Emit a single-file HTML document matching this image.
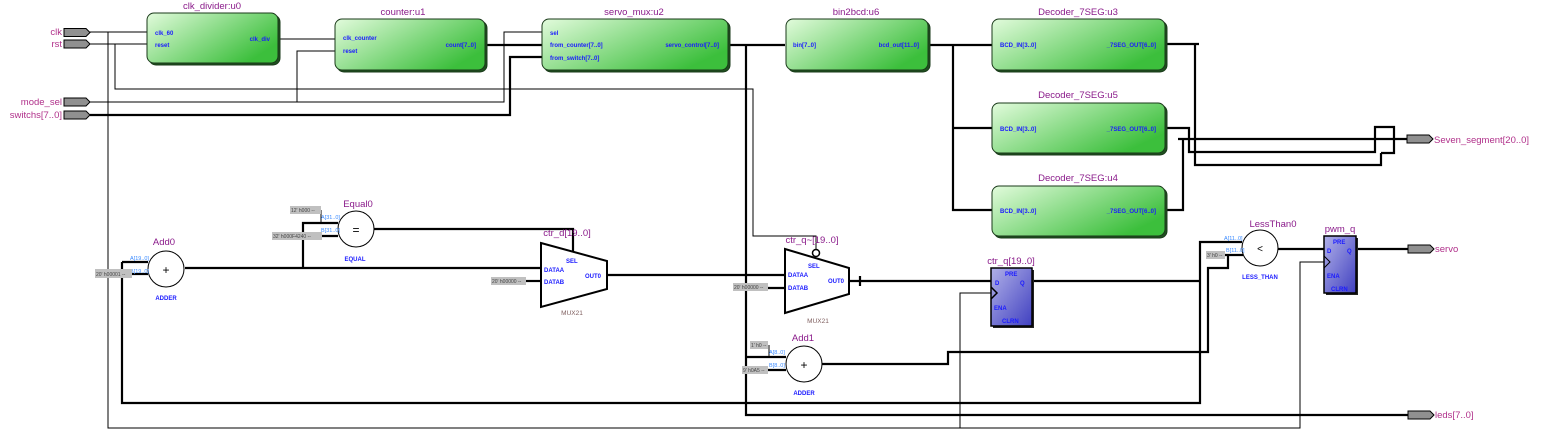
<!DOCTYPE html>
<html><head><meta charset="utf-8"><style>
html,body{margin:0;padding:0;background:#fff;}
svg{display:block;}
text{font-family:"Liberation Sans",sans-serif;}
.t{fill:#8a1a8a;font-size:9.5px;}
.p{fill:#1a1aff;font-size:6px;font-weight:bold;}
.pl{fill:#3a8aff;font-size:5.5px;}
.c{fill:#444;font-size:5px;}
.m{fill:#b0308a;font-size:9.5px;}
.w{stroke:#000;stroke-width:1;fill:none;}
.W{stroke:#000;stroke-width:2.2;fill:none;}
</style></head><body>
<svg width="1542" height="446" viewBox="0 0 1542 446" xmlns="http://www.w3.org/2000/svg">
<defs>
<linearGradient id="g" x1="0" y1="0" x2="1" y2="0.6">
<stop offset="0" stop-color="#e2fbdc"/><stop offset="1" stop-color="#3cbf3c"/></linearGradient>
<linearGradient id="b" x1="0" y1="0" x2="1" y2="1">
<stop offset="0" stop-color="#b0b0e8"/><stop offset="1" stop-color="#4040c0"/></linearGradient>
</defs>

<!-- wires thin -->
<g class="w">
<path d="M90 32H147M108 32V428H1300V262H1324"/>
<path d="M90 44H147M115 44V89H753V236H816V249"/>
<path d="M90 102H504V32H543"/>
<path d="M297 102V51H335"/>
<path d="M278 39H335"/>
<path d="M960 428V293H991"/>
<path d="M321 210V223"/>
<path d="M769 345V357"/>
</g>
<!-- wires thick -->
<g class="W">
<path d="M90 115H510V57H543"/>
<path d="M486 45H543"/>
<path d="M728 45H785M746 45V415H1408"/>
<path d="M928 45H992M953 45V210H992M953 128H992"/>
<path d="M1165 44H1199M1195 44V165H1381V153"/>
<path d="M1165 128H1189V152H1375V127H1394V153H1381"/>
<path d="M1165 210H1183V139H1407M1178 139H1183"/>
<path d="M122 262H148M122 262V403H1200V242H1242M1032 281H1200"/>
<path d="M132 274H148"/>
<path d="M185 268H541M303 268V223H338M322 236H338"/>
<path d="M374 229H573V252"/>
<path d="M526 281H541"/>
<path d="M607 275H785M768 288H785"/>
<path d="M849 281H991M860 276V286"/>
<path d="M746 357H786M768 370H786"/>
<path d="M822 364H948V352H1208V268H1228V255H1243M1225 255H1243"/>
<path d="M1278 249H1324M1356 249H1408"/>
</g>

<!-- input ports -->
<g fill="#909090" stroke="#000" stroke-width="1">
<polygon points="64,28.5 86,28.5 90,32.5 86,36.5 64,36.5"/>
<polygon points="64,40 86,40 90,44 86,48 64,48"/>
<polygon points="64,98 86,98 90,102 86,106 64,106"/>
<polygon points="64,111 86,111 90,115 86,119 64,119"/>
<polygon points="1407,135 1429,135 1433,139 1429,143 1407,143"/>
<polygon points="1408,245 1430,245 1434,249 1430,253 1408,253"/>
<polygon points="1408,411 1430,411 1434,415 1430,419 1408,419"/>
</g>
<g class="m" text-anchor="end">
<text x="62" y="35">clk</text><text x="62" y="47">rst</text>
<text x="62" y="105">mode_sel</text><text x="62" y="118">switchs[7..0]</text>
</g>
<g class="m"><text x="1434" y="143">Seven_segment[20..0]</text><text x="1435" y="252">servo</text><text x="1435" y="418">leds[7..0]</text></g>

<!-- green blocks -->
<g stroke="#1a3a1a" stroke-width="1" fill="url(#g)">
<rect x="149" y="15" width="131" height="50" rx="7" fill="#1f4f1f"/>
<rect x="147" y="13" width="131" height="50" rx="7"/>
<rect x="337" y="21" width="150" height="51" rx="7" fill="#1f4f1f"/>
<rect x="335" y="19" width="150" height="51" rx="7"/>
<rect x="544" y="21" width="186" height="51" rx="7" fill="#1f4f1f"/>
<rect x="542" y="19" width="186" height="51" rx="7"/>
<rect x="788" y="21" width="142" height="51" rx="7" fill="#1f4f1f"/>
<rect x="786" y="19" width="142" height="51" rx="7"/>
<rect x="994" y="21" width="173" height="51" rx="7" fill="#1f4f1f"/>
<rect x="992" y="19" width="173" height="51" rx="7"/>
<rect x="994" y="105" width="173" height="50" rx="7" fill="#1f4f1f"/>
<rect x="992" y="103" width="173" height="50" rx="7"/>
<rect x="994" y="188" width="173" height="50" rx="7" fill="#1f4f1f"/>
<rect x="992" y="186" width="173" height="50" rx="7"/>
</g>
<g class="t" text-anchor="middle">
<text x="212" y="9">clk_divider:u0</text>
<text x="403" y="15">counter:u1</text>
<text x="634" y="15">servo_mux:u2</text>
<text x="856" y="15">bin2bcd:u6</text>
<text x="1078" y="15">Decoder_7SEG:u3</text>
<text x="1078" y="98">Decoder_7SEG:u5</text>
<text x="1078" y="181">Decoder_7SEG:u4</text>
</g>
<g class="p">
<text x="155" y="35">clk_60</text><text x="155" y="47">reset</text>
<text x="270" y="41" text-anchor="end">clk_div</text>
<text x="343" y="40">clk_counter</text><text x="343" y="53">reset</text>
<text x="476" y="47" text-anchor="end">count[7..0]</text>
<text x="550" y="35">sel</text><text x="550" y="47">from_counter[7..0]</text><text x="550" y="60">from_switch[7..0]</text>
<text x="719" y="47" text-anchor="end">servo_control[7..0]</text>
<text x="793" y="47">bin[7..0]</text><text x="919" y="47" text-anchor="end">bcd_out[11..0]</text>
<text x="1000" y="47">BCD_IN[3..0]</text><text x="1156" y="47" text-anchor="end">_7SEG_OUT[6..0]</text>
<text x="1000" y="131">BCD_IN[3..0]</text><text x="1156" y="131" text-anchor="end">_7SEG_OUT[6..0]</text>
<text x="1000" y="213">BCD_IN[3..0]</text><text x="1156" y="213" text-anchor="end">_7SEG_OUT[6..0]</text>
</g>

<!-- operators -->
<g stroke="#000" stroke-width="1" fill="#fff">
<circle cx="166" cy="269" r="18"/>
<circle cx="356" cy="229" r="18"/>
<circle cx="804" cy="364" r="18"/>
<circle cx="1260" cy="248" r="18"/>
<polygon points="541,243 607,261 607,289 541,307" stroke-width="2"/>
<polygon points="785,249 849,268 849,294 785,313" stroke-width="2"/>
<circle cx="816" cy="253" r="3.5" stroke-width="1.5"/>
</g>
<g font-size="12" text-anchor="middle" fill="#000">
<text x="166" y="274">+</text><text x="356" y="234">=</text><text x="804" y="369">+</text><text x="1260" y="252" font-size="10">&lt;</text>
</g>
<g class="t" text-anchor="middle">
<text x="164" y="245">Add0</text><text x="358" y="207">Equal0</text>
<text x="803" y="341">Add1</text><text x="1273" y="227">LessThan0</text>
<text x="567" y="236">ctr_d[19..0]</text><text x="812" y="243">ctr_q~[19..0]</text>
<text x="1011" y="264">ctr_q[19..0]</text><text x="1340" y="232">pwm_q</text>
</g>
<g class="p" text-anchor="middle">
<text x="166" y="300">ADDER</text><text x="355" y="261">EQUAL</text>
<text x="804" y="395">ADDER</text><text x="1260" y="279">LESS_THAN</text>
</g>
<g fill="#806060" font-size="6.5" text-anchor="middle"><text x="572" y="315">MUX21</text><text x="818" y="323">MUX21</text></g>
<g class="p">
<text x="566" y="263">SEL</text><text x="544" y="272">DATAA</text><text x="544" y="284">DATAB</text><text x="585" y="278">OUT0</text>
<text x="808" y="268">SEL</text><text x="788" y="277">DATAA</text><text x="788" y="290">DATAB</text><text x="828" y="283">OUT0</text>
</g>
<g class="pl">
<text x="130" y="260">A[19..0]</text><text x="130" y="273">B[19..0]</text>
<text x="321" y="219">A[31..0]</text><text x="321" y="232">B[31..0]</text>
<text x="769" y="354">A[8..0]</text><text x="769" y="367">B[8..0]</text>
<text x="1224" y="240">A[11..0]</text><text x="1226" y="252">B[11..0]</text>
</g>
<!-- constants -->
<g fill="#c0c0c0">
<rect x="95" y="269" width="37" height="9"/><rect x="290" y="206" width="31" height="8"/>
<rect x="272" y="232" width="50" height="8"/><rect x="491" y="277" width="35" height="8"/>
<rect x="733" y="283" width="35" height="8"/><rect x="750" y="341" width="18" height="8"/>
<rect x="742" y="366" width="26" height="8"/><rect x="1206" y="251" width="19" height="8"/>
</g>
<g class="c">
<text x="96" y="276">20' h00001 --</text><text x="291" y="212">12' h000 --</text>
<text x="273" y="238">32' h000F4240 --</text><text x="492" y="283">20' h00000 --</text>
<text x="734" y="289">20' h00000 --</text><text x="751" y="347">1' h0 --</text>
<text x="743" y="372">9' h0A5 --</text><text x="1207" y="257">3' h0 --</text>
</g>

<!-- registers -->
<rect x="993" y="270" width="41" height="58" fill="#222"/>
<rect x="991" y="268" width="41" height="58" fill="url(#b)" stroke="#000" stroke-width="1.5"/>
<polyline points="991,287 997,293 991,299" fill="none" stroke="#000" stroke-width="1.5"/>
<rect x="1326" y="238" width="32" height="57" fill="#222"/>
<rect x="1324" y="236" width="32" height="57" fill="url(#b)" stroke="#000" stroke-width="1.5"/>
<polyline points="1324,256 1330,262 1324,268" fill="none" stroke="#000" stroke-width="1"/>
<g class="p">
<text x="1005" y="276">PRE</text><text x="995" y="285">D</text><text x="1020" y="285">Q</text>
<text x="994" y="310">ENA</text><text x="1002" y="323">CLRN</text>
<text x="1333" y="244">PRE</text><text x="1327" y="253">D</text><text x="1347" y="253">Q</text>
<text x="1327" y="278">ENA</text><text x="1331" y="291">CLRN</text>
</g>
</svg>
</body></html>
